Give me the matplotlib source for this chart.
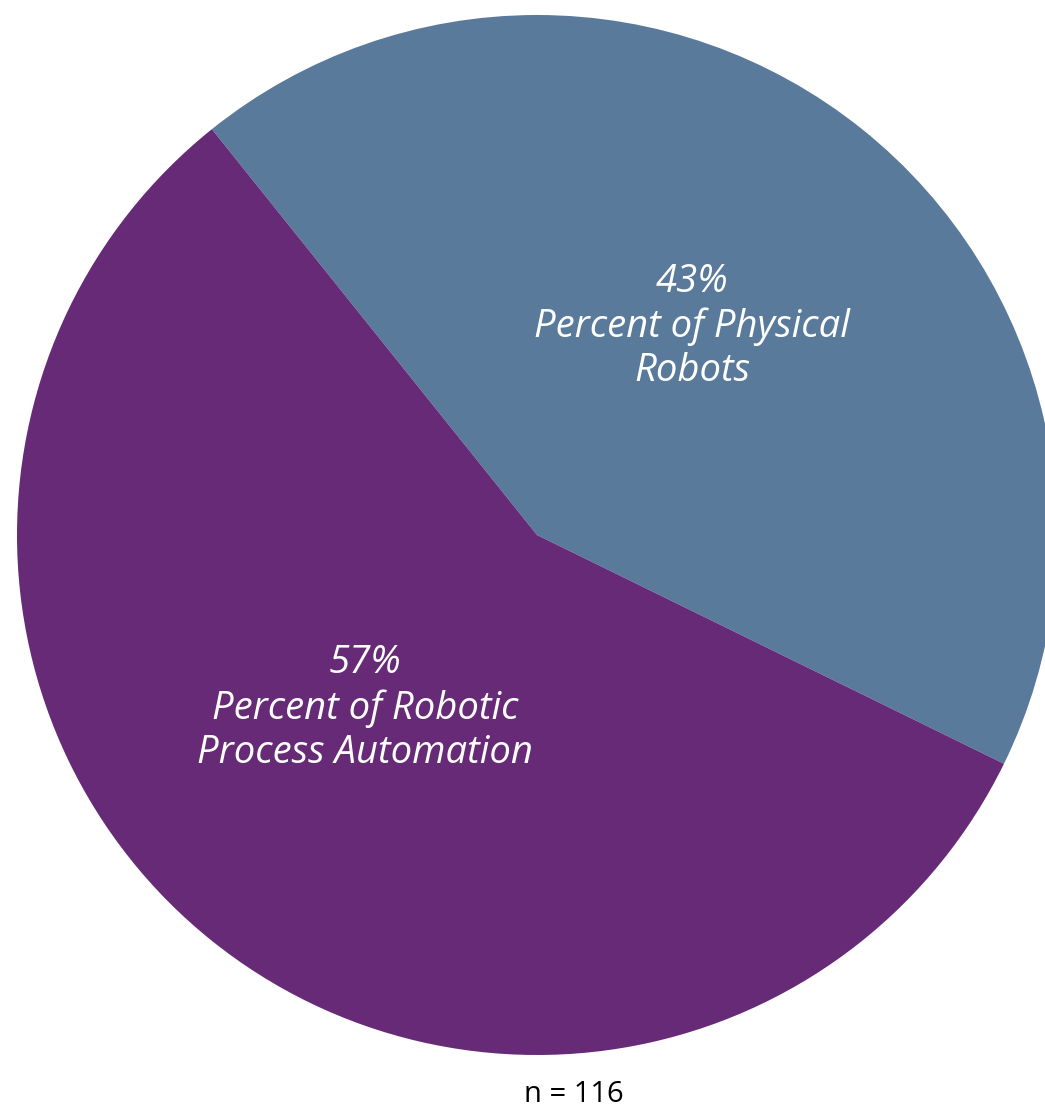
import numpy as np
import matplotlib.pyplot as plt

# Data
labels = ['Percent of Physical\nRobots', 'Percent of Robotic\nProcess Automation']
shares = [43, 57]
colors = ['#5a7a9c', '#672a76']
n_total = 116

# Figure geometry (pixels)
W, H = 1045, 1113
cx, cy, R = 537, 535, 520

fig = plt.figure(figsize=(W / 100, H / 100), dpi=100)
ax = fig.add_axes([0, 0, 1, 1])

wedges, _ = ax.pie(shares, colors=colors, startangle=128.7, counterclock=False,
                   radius=1.0, wedgeprops=dict(linewidth=0))

ax.set_aspect('auto')
ax.set_xlim(-cx / R, (W - cx) / R)
ax.set_ylim(-(H - cy) / R, cy / R)
ax.axis('off')

# Label positions in data units
label_pos = [(0.298, 0.401), (-0.331, -0.333)]
for lab, val, (x, y) in zip(labels, shares, label_pos):
    ax.text(x, y, f'{val}%\n{lab}', ha='center', va='center', color='white',
            fontsize=27.5, fontstyle='italic', family='Open Sans', linespacing=1.22)

ax.text(0.071, -1.076, f'n = {n_total}', ha='center', va='center',
        color='black', fontsize=21, family='Open Sans')

plt.savefig('out.png', dpi=100)
